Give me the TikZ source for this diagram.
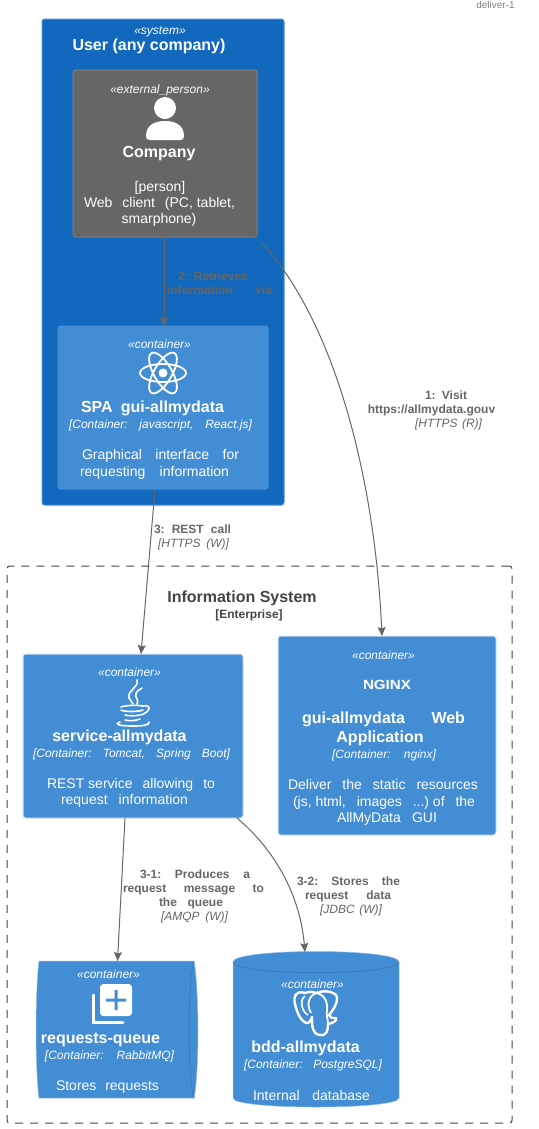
\documentclass[tikz,border=0pt]{standalone}
\usepackage{graphicx}
\usepackage{fontspec}
\setmainfont{Liberation Sans}
\usetikzlibrary{arrows.meta}
\frenchspacing
\definecolor{systemblue}{HTML}{1168BD}
\definecolor{containerblue}{HTML}{438DD5}
\definecolor{edgeblue}{HTML}{4A8FD4}
\definecolor{persongray}{HTML}{666666}
\definecolor{personedge}{HTML}{7E7E7E}
\definecolor{inkgray}{HTML}{444444}
\newcommand{\fitline}[2]{\makebox[\dimexpr#1pt*3/4\relax][s]{#2}}
\def\px{0.75pt}
\tikzset{
  every node/.style={inner sep=0pt,outer sep=0pt},
  textline/.style={text height=.72em,text depth=.2em,yshift=-1.5pt},
  stereotext/.style={textline,white,font=\fontsize{9}{9}\selectfont\itshape},
  nametext/.style={textline,white,font=\fontsize{12}{12}\selectfont\bfseries},
  techtext/.style={textline,white,font=\fontsize{9}{9}\selectfont\itshape},
  desctext/.style={textline,white,font=\fontsize{10.5}{10.5}\selectfont},
  rellabel/.style={textline,persongray,font=\fontsize{9}{9}\selectfont\bfseries},
  reltech/.style={textline,persongray,font=\fontsize{9}{9}\selectfont\itshape},
  systembox/.style={draw=edgeblue,fill=systemblue,line width=\px,rounded corners=2pt},
  personbox/.style={draw=personedge,fill=persongray,line width=\px,rounded corners=2pt},
  containerbox/.style={draw=edgeblue,fill=containerblue,line width=\px,rounded corners=2pt},
  relation/.style={draw=persongray,line width=\px,-{Stealth[length=9*\px,width=8*\px,inset=1.5*\px]}}
}
\begin{document}
\begin{tikzpicture}[x=0.75pt,y=-0.75pt]
  \useasboundingbox (0,0) rectangle (539,1129);

  % boundaries
  \node[gray,font=\fontsize{7.5}{7.5}\selectfont] (diagramname) at (495.5,5) {deliver-1};
  \node[systembox,minimum width=242*\px,minimum height=486*\px] (user) at (163,262) {};
  \node[draw=inkgray,line width=\px,dash pattern=on 8*\px off 7*\px,rounded corners=2pt,minimum width=505*\px,minimum height=557*\px] (infosystem) at (259.5,844.5) {};

  % boxes
  \node[personbox,minimum width=184*\px,minimum height=167*\px] (company) at (165,153.5) {};
  \node[containerbox,minimum width=210*\px,minimum height=163*\px] (spa) at (163,407.5) {};
  \node[containerbox,draw=white!75!containerblue,minimum width=220*\px,minimum height=164*\px] (service) at (133,736) {};
  \node[containerbox,draw=white!75!containerblue,minimum width=218*\px,minimum height=199*\px] (nginx) at (387,735.5) {};
  \filldraw[containerblue,draw=white!40!containerblue,line width=0.5*\px]
    (39,961) -- (194,961) .. controls (197,975) and (198,1015) .. (198,1030)
    .. controls (198,1050) and (197,1085) .. (194,1098) -- (39,1098)
    .. controls (37,1085) and (36,1050) .. (36,1030)
    .. controls (36,1010) and (37,975) .. (39,961) -- cycle;
  \draw[edgeblue!80!black,line width=0.5*\px] (194,961) .. controls (190,975) and (189,1015) .. (189,1030)
    .. controls (189,1050) and (190,1085) .. (194,1098);
  \coordinate (queue) at (117.5,961);
  \filldraw[containerblue,draw=white!40!containerblue,line width=0.5*\px]
    (233,962) .. controls (233,948) and (399,948) .. (399,962)
    -- (399,1098) .. controls (399,1110) and (233,1110) .. (233,1098) -- cycle;
  \draw[edgeblue!80!black,line width=0.5*\px] (233,962) .. controls (233,976) and (399,976) .. (399,962);
  \coordinate (database) at (305,952);

  % relations
  \draw[relation] ([xshift=-1*\px]company.south) -- ([xshift=1*\px]spa.north);
  \draw[relation] (company.south east) ++(3*\px,-4*\px) .. controls (335,320) and (375,480) .. ([xshift=-5*\px]nginx.north);
  \draw[relation] ([xshift=-8*\px]spa.south) -- ([xshift=8*\px]service.north);
  \draw[relation] ([xshift=-8*\px]service.south) -- (queue);
  \draw[relation] ([xshift=104*\px]service.south) .. controls (275,850) and (300,895) .. (database);

  % user
  \node[stereotext] (usertype) at (160,29) {«system»};
  \node[nametext] (username) at (149,45) {User (any company)};
  \node[stereotext] (companytype) at (160,88) {«external\_person»};
  \fill[white] (165,108) circle[radius=11];
  \fill[white] (146,136) .. controls (146,125) and (155,121) .. (165,121)
    .. controls (175,121) and (184,125) .. (184,136)
    .. controls (184,139) and (183,140) .. (180,140) -- (150,140)
    .. controls (147,140) and (146,139) .. (146,136) -- cycle;
  \node[nametext] (companyname) at (159,152) {Company};
  \node[desctext] (companyrole) at (160,186) {[person]};
  \node[desctext] (companydesc1) at (159.5,202) {\fitline{151}{Web client \mbox{(PC, tablet,}}};
  \node[desctext] (companydesc2) at (159,218) {smarphone)};

  % spa
  \node[stereotext] (spatype) at (159.5,343) {«container»};
  \begin{scope}[white,line width=1.8*\px]
    \draw (163,373) ellipse[x radius=23,y radius=9];
    \draw[rotate around={60:(163,373)}] (163,373) ellipse[x radius=23,y radius=9];
    \draw[rotate around={-60:(163,373)}] (163,373) ellipse[x radius=23,y radius=9];
    \fill (163,373) circle[radius=4.5];
  \end{scope}
  \node[nametext] (spaname) at (152.5,407) {\fitline{143}{SPA gui-allmydata}};
  \node[techtext] (spatech) at (160.5,423) {\fitline{183}{[Container: javascript, React.js]}};
  \node[desctext] (spadesc1) at (160.5,454) {\fitline{157}{Graphical interface for}};
  \node[desctext] (spadesc2) at (154.5,471) {\fitline{149}{requesting information}};

  % service
  \node[stereotext] (servicetype) at (129.5,671) {«container»};
  \begin{scope}[white,line width=1.6*\px,line cap=round]
    \draw (137,680) .. controls (139,688) and (127,690) .. (129,698) .. controls (130,701) and (133,702) .. (133,704);
    \draw (142,688) .. controls (136,691) and (134,695) .. (137,699) .. controls (138,701) and (138,703) .. (137,704);
    \draw (121,707) .. controls (126,705) and (138,705) .. (143,706);
    \draw (121,710) .. controls (124,712) and (138,712) .. (143,710);
    \draw (125,715) .. controls (128,716) and (136,716) .. (140,715);
    \draw (143,706) .. controls (151,704) and (152,711) .. (141,715);
    \draw (125,720) .. controls (128,721) and (136,721) .. (140,719);
    \draw (120,722) .. controls (114,724) and (118,726) .. (133,726) .. controls (143,726) and (150,725) .. (149,722);
  \end{scope}
  \node[nametext] (servicename) at (119.5,736) {service-allmydata};
  \node[techtext] (servicetech) at (131.5,752) {\fitline{197}{[Container: Tomcat, Spring Boot]}};
  \node[desctext] (servicedesc1) at (131,783) {\fitline{168}{\mbox{REST service} allowing to}};
  \node[desctext] (servicedesc2) at (124.5,799) {\fitline{127}{request information}};

  % nginx
  \node[white,font=\fontsize{9.75}{9.75}\selectfont\bfseries] (nginxlogo) at (387,684.5) {\resizebox{36pt}{7pt}{NGINX}};
  \node[stereotext] (nginxtype) at (383.5,654) {«container»};
  \node[nametext] (nginxname1) at (383.5,718) {\fitline{163}{gui-allmydata Web}};
  \node[nametext] (nginxname2) at (380,737) {Application};
  \node[techtext] (nginxtech) at (384,753) {\fitline{104}{[Container: nginx]}};
  \node[desctext] (nginxdesc1) at (383,784) {\fitline{190}{Deliver the static resources}};
  \node[desctext] (nginxdesc2) at (384,801) {\fitline{182}{\mbox{(js, html,} images \mbox{...) of} the}};
  \node[desctext] (nginxdesc3) at (387,817) {\fitline{100}{AllMyData GUI}};

  % queue
  \node[stereotext] (queuetype) at (108.5,973) {«container»};
  \draw[white,line width=3*\px,line cap=round] (93.5,995) -- (93.5,1022.5) -- (123,1022.5);
  \fill[white,rounded corners=2.5pt] (100,984) rectangle (132,1016);
  \fill[containerblue] (106,998.5) rectangle (126,1001.5) (114.5,990) rectangle (117.5,1010);
  \node[nametext] (queuename) at (100.5,1038) {requests-queue};
  \node[techtext] (queuetech) at (109.5,1054) {\fitline{129}{[Container: RabbitMQ]}};
  \node[desctext] (queuedesc) at (107.5,1085) {\fitline{103}{Stores requests}};

  % database
  \node[stereotext] (databasetype) at (312.5,983) {«container»};
  \begin{scope}[line join=round]
    \filldraw[fill=containerblue,draw=white,line width=2.4*\px]
      (305,993) .. controls (296,990) and (293,996) .. (295,1004) .. controls (297,1013) and (301,1021) .. (306,1023)
      .. controls (309,1024) and (311,1020) .. (312,1017) .. controls (312,1026) and (312,1034) .. (320,1035)
      .. controls (327,1036) and (328,1030) .. (328,1024) .. controls (333,1023) and (337,1021) .. (336,1018)
      .. controls (332,1018) and (330,1018) .. (329,1015) .. controls (335,1008) and (340,998) .. (335,994)
      .. controls (329,990) and (321,991) .. (316,993) .. controls (312,991) and (308,992) .. (305,993) -- cycle;
    \draw[white,line width=1.8*\px] (316,993) .. controls (309,996) and (306,1004) .. (311,1013);
    \draw[white,line width=1.8*\px] (316,993) .. controls (324,994) and (328,1002) .. (327,1010) .. controls (326,1014) and (328,1020) .. (328,1024);
    \draw[white,line width=1.6*\px] (305,996) .. controls (299,1000) and (302,1012) .. (308,1015);
  \end{scope}
  \node[nametext] (databasename) at (305.5,1047) {bdd-allmydata};
  \node[techtext] (databasetech) at (313,1063) {\fitline{138}{[Container: PostgreSQL]}};
  \node[desctext] (databasedesc) at (311.5,1095) {\fitline{117}{Internal database}};

  % titles and relation labels
  \node[textline,inkgray,font=\fontsize{12}{12}\selectfont\bfseries] (infotitle) at (242,597) {Information System};
  \node[textline,inkgray,font=\fontsize{9}{9}\selectfont\bfseries] (infotype) at (249,613) {[Enterprise]};
  \node[rellabel] (retrieve1) at (213,275) {\fitline{70}{2: Retrieves}};
  \node[rellabel] (retrieve2) at (219.5,289) {\fitline{105}{information via}};
  \node[rellabel] (visit1) at (446,394) {\fitline{42}{1: Visit}};
  \node[rellabel] (visit2) at (431.5,408) {https://allmydata.gouv};
  \node[reltech] (visit3) at (448.5,422) {\fitline{67}{[HTTPS (R)]}};
  \node[rellabel] (rest1) at (192.5,528) {\fitline{77}{3: REST call}};
  \node[reltech] (rest2) at (193.5,542) {\fitline{71}{[HTTPS (W)]}};
  \node[rellabel] (produce1) at (195,873) {\fitline{110}{3-1: Produces a}};
  \node[rellabel] (produce2) at (193.5,887) {\fitline{141}{request message to}};
  \node[rellabel] (produce3) at (191,901) {\fitline{64}{the queue}};
  \node[reltech] (produce4) at (194.5,915) {\fitline{67}{[AMQP (W)]}};
  \node[rellabel] (store1) at (348.5,880) {\fitline{103}{3-2: Stores the}};
  \node[rellabel] (store2) at (348,894) {\fitline{86}{request data}};
  \node[reltech] (store3) at (351,908) {\fitline{62}{[JDBC (W)]}};
\end{tikzpicture}
\end{document}
